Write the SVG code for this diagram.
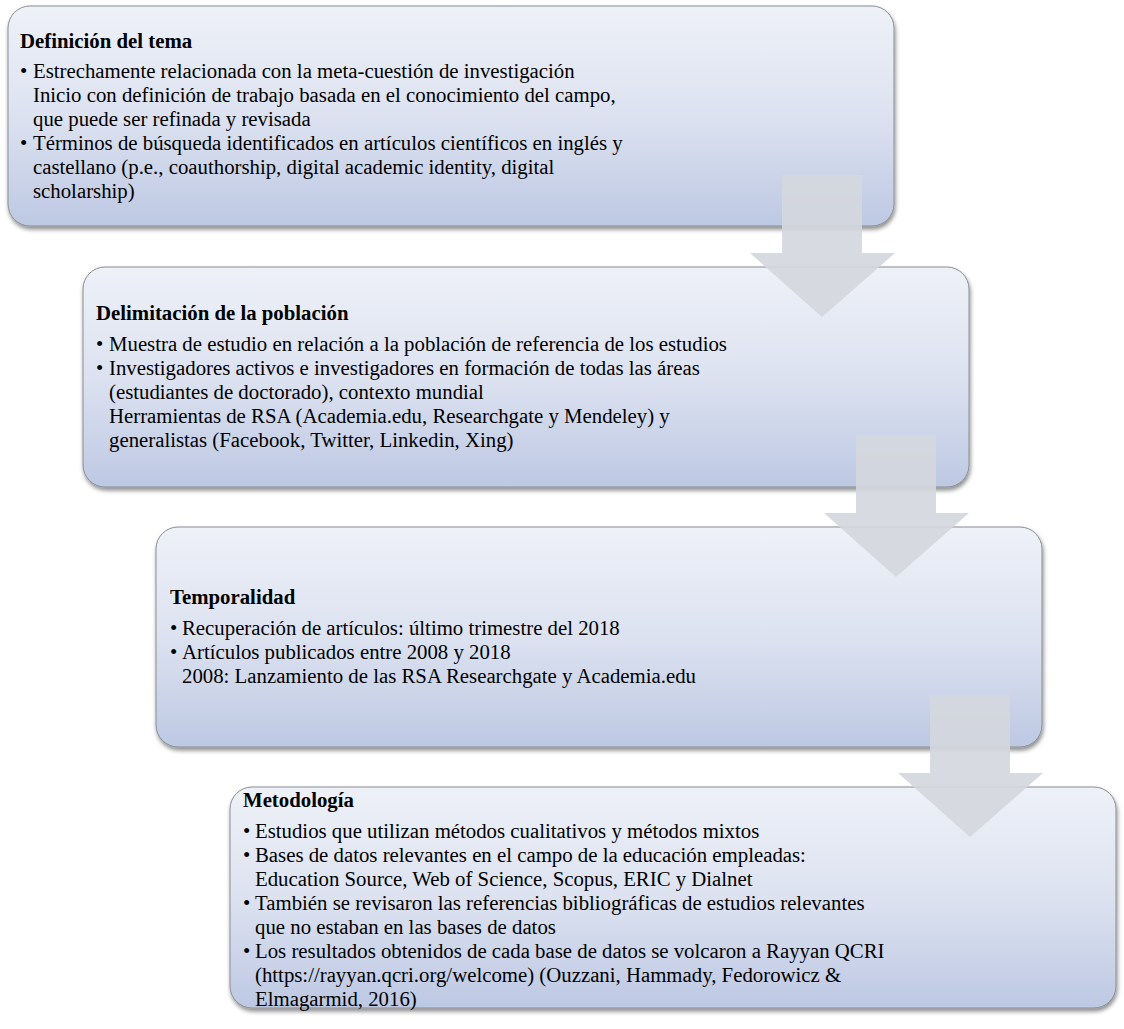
<svg xmlns="http://www.w3.org/2000/svg" width="1124" height="1029" viewBox="0 0 1124 1029">
<defs>
<linearGradient id="boxFill" x1="0" y1="0" x2="0" y2="1">
<stop offset="0" stop-color="#eef1f8"/>
<stop offset="0.5" stop-color="#dce2f0"/>
<stop offset="1" stop-color="#bdc8e3"/>
</linearGradient>
<filter id="shadow" x="-5%" y="-10%" width="110%" height="125%">
<feDropShadow dx="1" dy="3" stdDeviation="2" flood-color="#000" flood-opacity="0.45"/>
</filter>
<style>
.box{fill:url(#boxFill);stroke:#8a8d93;stroke-width:1;filter:url(#shadow)}
.t{font-family:"Liberation Serif","Times New Roman",serif;font-size:20.8px;fill:#000}
.h{font-weight:bold}
.arrow{fill:#d4d7dd;fill-opacity:0.92}
</style>
</defs>
<rect width="1124" height="1029" fill="#fff"/>
<g id="node1">
<rect class="box" x="8" y="6" width="886" height="220" rx="22" ry="22"/>
<text class="t h" x="20" y="48">Definición del tema</text>
<text class="t" x="20" y="78">•</text>
<text class="t" x="33" y="78">Estrechamente relacionada con la meta-cuestión de investigación</text>
<text class="t" x="33" y="102">Inicio con definición de trabajo basada en el conocimiento del campo,</text>
<text class="t" x="33" y="126">que puede ser refinada y revisada</text>
<text class="t" x="20" y="150">•</text>
<text class="t" x="33" y="150">Términos de búsqueda identificados en artículos científicos en inglés y</text>
<text class="t" x="33" y="174">castellano (p.e., coauthorship, digital academic identity, digital</text>
<text class="t" x="33" y="198">scholarship)</text>
</g>
<g id="node2">
<rect class="box" x="83" y="267" width="886" height="220" rx="22" ry="22"/>
<text class="t h" x="96" y="320">Delimitación de la población</text>
<text class="t" x="96" y="351">•</text>
<text class="t" x="109" y="351">Muestra de estudio en relación a la población de referencia de los estudios</text>
<text class="t" x="96" y="375">•</text>
<text class="t" x="109" y="375">Investigadores activos e investigadores en formación de todas las áreas</text>
<text class="t" x="109" y="399">(estudiantes de doctorado), contexto mundial</text>
<text class="t" x="109" y="423">Herramientas de RSA (Academia.edu, Researchgate y Mendeley) y</text>
<text class="t" x="109" y="447">generalistas (Facebook, Twitter, Linkedin, Xing)</text>
</g>
<g id="node3">
<rect class="box" x="156" y="527" width="886" height="220" rx="22" ry="22"/>
<text class="t h" x="170" y="604">Temporalidad</text>
<text class="t" x="170" y="635">•</text>
<text class="t" x="182" y="635">Recuperación de artículos: último trimestre del 2018</text>
<text class="t" x="170" y="659">•</text>
<text class="t" x="182" y="659">Artículos publicados entre 2008 y 2018</text>
<text class="t" x="182" y="683">2008: Lanzamiento de las RSA Researchgate y Academia.edu</text>
</g>
<g id="node4">
<rect class="box" x="230" y="787" width="886" height="221" rx="22" ry="22"/>
<text class="t h" x="243" y="807">Metodología</text>
<text class="t" x="243" y="838">•</text>
<text class="t" x="255" y="838">Estudios que utilizan métodos cualitativos y métodos mixtos</text>
<text class="t" x="243" y="862">•</text>
<text class="t" x="255" y="862">Bases de datos relevantes en el campo de la educación empleadas:</text>
<text class="t" x="255" y="886">Education Source, Web of Science, Scopus, ERIC y Dialnet</text>
<text class="t" x="243" y="910">•</text>
<text class="t" x="255" y="910">También se revisaron las referencias bibliográficas de estudios relevantes</text>
<text class="t" x="255" y="934">que no estaban en las bases de datos</text>
<text class="t" x="243" y="958">•</text>
<text class="t" x="255" y="958">Los resultados obtenidos de cada base de datos se volcaron a Rayyan QCRI</text>
<text class="t" x="255" y="982">(https://rayyan.qcri.org/welcome) (Ouzzani, Hammady, Fedorowicz &amp;</text>
<text class="t" x="255" y="1006">Elmagarmid, 2016)</text>
</g>
<g id="connectors">
<polygon class="arrow" points="782,175 862,175 862,253 895,253 822,317 750,253 782,253"/>
<polygon class="arrow" points="856,435 936,435 936,513 969,513 896,577 824,513 856,513"/>
<polygon class="arrow" points="930,695 1010,695 1010,773 1043,773 970,837 898,773 930,773"/>
</g>
</svg>
